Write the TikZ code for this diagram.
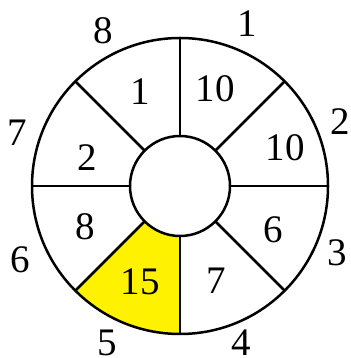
\documentclass[tikz,border=0pt]{standalone}
\usepackage{fontspec}
\setmainfont{Liberation Serif}
\begin{document}
\begin{tikzpicture}[x=1pt,y=1pt,
  lbl/.style={font=\fontsize{39}{39}\selectfont, inner sep=0pt},
  edge/.style={line width=2.5pt, black}]
\useasboundingbox (0,0) rectangle (350,358);
\coordinate (c) at (180,172);
\def\Ro{148}\def\Ri{50}
% yellow sector
\fill[yellow] ([shift={(225:\Ri)}]c) -- ([shift={(225:\Ro)}]c) arc[start angle=225,end angle=270,radius=\Ro] -- ([shift={(270:\Ri)}]c) arc[start angle=270,end angle=225,radius=\Ri] -- cycle;
% spokes
\foreach \a in {0,45,...,315} {
  \draw[edge] ([shift={(\a:\Ri)}]c) -- ([shift={(\a:\Ro)}]c);
}
\draw[edge] (c) circle[radius=\Ro];
\draw[edge] (c) circle[radius=\Ri];
% outer labels
\node[lbl] (o1) at (247,334) {1};
\node[lbl] (o8) at (103,327) {8};
\node[lbl] (o7) at (17,225) {7};
\node[lbl] (o2) at (340,236) {2};
\node[lbl] (o6) at (20,98) {6};
\node[lbl] (o3) at (337,105) {3};
\node[lbl] (o5) at (107,15.5) {5};
\node[lbl] (o4) at (241,15.5) {4};
% inner labels
\node[lbl] (i1) at (140,266) {1};
\node[lbl] (i10a) at (215,269) {10};
\node[lbl] (i2) at (87,200) {2};
\node[lbl] (i10b) at (285,210) {10};
\node[lbl] (i8) at (85,131) {8};
\node[lbl] (i6) at (273,128) {6};
\node[lbl] (i15) at (140,76) {15};
\node[lbl] (i7) at (216,77) {7};
\end{tikzpicture}
\end{document}
